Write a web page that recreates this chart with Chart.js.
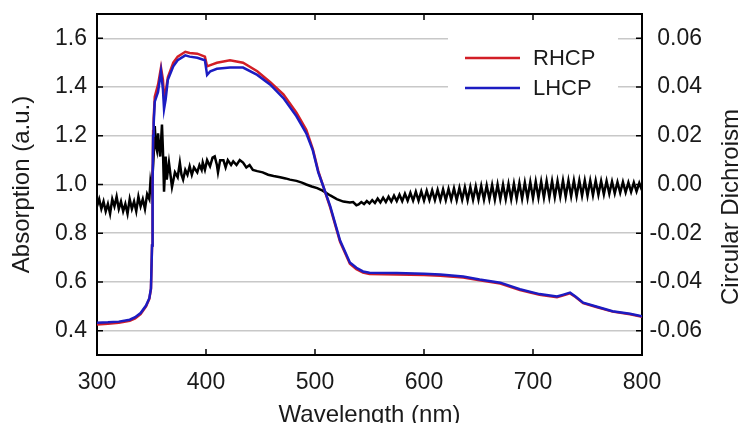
<!DOCTYPE html>
<html lang="en">
<head>
    <meta charset="UTF-8">
    <title>Absorption / Circular Dichroism</title>
    <script src="https://cdn.jsdelivr.net/npm/chart.js"></script>
    <style>
        body {
            margin: 0;
            background: #fff;
        }
        .chart-container {
            width: 745px;
            height: 423px;
            position: relative;
        }
    </style>
</head>
<body>
    <div class="chart-container">
        <canvas id="cdChart"></canvas>
    </div>

    <script>
        // wavelengths (nm) for the two absorption curves
        const absWl = [300, 310, 320, 330, 335, 340, 345, 348, 349.5, 350.5, 351, 351.5, 352, 353, 356, 358.7, 360.5, 361.5, 363, 365,
            370, 374, 381, 385, 392, 399, 401, 404, 410, 422, 434, 447, 459, 471, 483, 492, 498, 503, 507, 514,
            523, 532, 538, 544, 550, 575, 600, 615, 636, 651, 670, 688, 706, 722, 728, 734, 739, 746, 758, 773, 789, 800];
        const rhcp = [0.425, 0.428, 0.432, 0.44, 0.45, 0.468, 0.50, 0.53, 0.57, 0.75, 1.0, 1.22, 1.27, 1.36, 1.41, 1.48, 1.43, 1.36, 1.38, 1.44,
            1.50, 1.525, 1.545, 1.54, 1.537, 1.525, 1.485, 1.49, 1.50, 1.51, 1.50, 1.465, 1.42, 1.37, 1.295, 1.225, 1.145, 1.055, 1.0, 0.905,
            0.765, 0.675, 0.652, 0.638, 0.633, 0.631, 0.628, 0.625, 0.618, 0.607, 0.593, 0.567, 0.547, 0.537, 0.545, 0.553, 0.538, 0.513, 0.497, 0.478, 0.467, 0.457];
        const lhcp = [0.432, 0.434, 0.437, 0.445, 0.455, 0.472, 0.503, 0.533, 0.573, 0.75, 1.0, 1.2, 1.25, 1.34, 1.38, 1.465, 1.39, 1.31, 1.35, 1.43,
            1.485, 1.51, 1.53, 1.525, 1.52, 1.51, 1.45, 1.465, 1.475, 1.48, 1.48, 1.45, 1.41, 1.355, 1.28, 1.21, 1.14, 1.05, 1.0, 0.91,
            0.77, 0.68, 0.658, 0.643, 0.638, 0.637, 0.634, 0.630, 0.622, 0.610, 0.597, 0.570, 0.550, 0.540, 0.548, 0.556, 0.540, 0.515, 0.499, 0.480, 0.469, 0.459];

        // circular dichroism (right axis)
        const cdWl = [300, 302, 304, 306, 308, 310, 312, 314, 316, 318, 320, 322, 324, 326, 328, 330, 332, 334, 336, 338,
            340, 342, 344, 346, 348, 349, 350, 351, 352, 353, 354, 355, 356, 357, 358, 359.6, 360.5, 361.5, 363, 364,
            366, 368.8, 371.5, 374, 376, 377.5, 379, 381, 383, 385, 387, 389, 392, 394, 396, 397, 399, 401, 403.7, 406,
            408, 410, 411, 413, 416, 418, 420, 423, 425, 428, 431, 434, 437, 440, 443, 447, 452, 457, 462, 468,
            473, 477, 483, 488, 492, 497, 502, 507, 514, 520, 526, 532, 535, 538,
            540, 542.5, 545, 547.5, 550, 552.5, 555, 557.5, 560, 562.5, 565, 567.5, 570, 572.5, 575, 577.5, 580, 582.5, 585, 587.5,
            590, 592.5, 595, 597.5, 600, 602.5, 605, 607.5, 610, 612.5, 615, 617.5, 620, 622.5, 625, 627.5, 630, 632.5, 635, 637.5,
            640, 642.5, 645, 647.5, 650, 652.5, 655, 657.5, 660, 662.5, 665, 667.5, 670, 672.5, 675, 677.5, 680, 682.5, 685, 687.5,
            690, 692.5, 695, 697.5, 700, 702.5, 705, 707.5, 710, 712.5, 715, 717.5, 720, 722.5, 725, 727.5, 730, 732.5, 735, 737.5,
            740, 742.5, 745, 747.5, 750, 752.5, 755, 757.5, 760, 762.5, 765, 767.5, 770, 772.5, 775, 777.5, 780, 782.5, 785, 787.5,
            790, 792.5, 795, 797.5, 800];
        const cdVal = [-0.009, -0.006, -0.010, -0.007, -0.011, -0.008, -0.012, -0.006, -0.009, -0.005, -0.010, -0.007, -0.011, -0.008, -0.012, -0.006, -0.010, -0.007, -0.011, -0.005,
            -0.009, -0.006, -0.010, -0.004, -0.006, 0.001, -0.002, 0.004, 0.012, 0.024, 0.016, 0.014, 0.021, 0.015, 0.0115, 0.0246, 0.014, -0.003, 0.0115, 0.002,
            0.009, -0.001, 0.005, 0.003, 0.009, 0.004, 0.002, 0.006, 0.004, 0.0075, 0.004, 0.007, 0.005, 0.008, 0.006, 0.009, 0.006, 0.010, 0.0075, 0.011,
            0.0115, 0.008, 0.005, 0.010, 0.010, 0.007, 0.010, 0.008, 0.0095, 0.008, 0.010, 0.009, 0.007, 0.008, 0.006, 0.0055, 0.005, 0.004, 0.0035, 0.003,
            0.0025, 0.002, 0.0015, 0.0008, 0.0, -0.0008, -0.0015, -0.0025, -0.0045, -0.006, -0.007, -0.0074, -0.0072, -0.0085,
            -0.0082, -0.0072, -0.0080, -0.0068, -0.0078, -0.0064, -0.0076, -0.0058, -0.0074, -0.0054, -0.0072, -0.0050, -0.0070, -0.0046, -0.0068, -0.0042, -0.0068, -0.0038, -0.0066, -0.0034,
            -0.0066, -0.0030, -0.0066, -0.0028, -0.0066, -0.0026, -0.0064, -0.0024, -0.0064, -0.0022, -0.0064, -0.0020, -0.0064, -0.0018, -0.0062, -0.0016, -0.0064, -0.0014, -0.0062, -0.0012,
            -0.0064, -0.0010, -0.0062, -0.0008, -0.0062, -0.0006, -0.0062, -0.0004, -0.0060, -0.0002, -0.0062, 0.0000, -0.0060, 0.0000, -0.0060, 0.0002, -0.0060, 0.0004, -0.0058, 0.0006,
            -0.0058, 0.0008, -0.0056, 0.0010, -0.0056, 0.0012, -0.0054, 0.0012, -0.0054, 0.0014, -0.0052, 0.0014, -0.0052, 0.0014, -0.0050, 0.0016, -0.0050, 0.0016, -0.0048, 0.0016,
            -0.0048, 0.0016, -0.0046, 0.0016, -0.0046, 0.0016, -0.0044, 0.0016, -0.0042, 0.0014, -0.0040, 0.0014, -0.0038, 0.0012, -0.0036, 0.0010, -0.0034, 0.0010, -0.0032, 0.0008,
            -0.0030, 0.0008, -0.0028, 0.0006, -0.0024];

        const xTicks = [300, 400, 500, 600, 700, 800];
        const leftTicks = [0.4, 0.6, 0.8, 1.0, 1.2, 1.4, 1.6];
        const rightTicks = [-0.06, -0.04, -0.02, 0.00, 0.02, 0.04, 0.06];
        const rightTitle = 'Circular Dichroism';

        const FONT = 'Arial, "Liberation Sans", sans-serif';

        function pts(xs, ys) {
            return xs.map((x, i) => ({ x: x, y: ys[i] }));
        }

        // short tick marks pointing into the plot, on all four sides
        const innerTicks = {
            id: 'innerTicks',
            afterDraw(chart) {
                const { ctx, chartArea: a, scales } = chart;
                const len = 6;
                ctx.save();
                ctx.strokeStyle = '#000';
                ctx.lineWidth = 1.5;
                ctx.beginPath();
                xTicks.forEach(v => {
                    const px = scales.x.getPixelForValue(v);
                    ctx.moveTo(px, a.bottom); ctx.lineTo(px, a.bottom - len);
                    ctx.moveTo(px, a.top); ctx.lineTo(px, a.top + len);
                });
                leftTicks.forEach(v => {
                    const py = scales.y.getPixelForValue(v);
                    ctx.moveTo(a.left, py); ctx.lineTo(a.left + len, py);
                });
                rightTicks.forEach(v => {
                    const py = scales.y2.getPixelForValue(v);
                    ctx.moveTo(a.right, py); ctx.lineTo(a.right - len, py);
                });
                ctx.stroke();

                // right axis title reads bottom to top, like the left one
                ctx.font = '24px ' + FONT;
                ctx.fillStyle = '#1a1a1a';
                ctx.textAlign = 'center';
                ctx.textBaseline = 'middle';
                ctx.translate(731, 207);
                ctx.rotate(-Math.PI / 2);
                ctx.fillText(rightTitle, 0, 0);
                ctx.restore();
            }
        };

        // legend box inside the plot (white box hides the grid behind it)
        const boxLegend = {
            id: 'boxLegend',
            beforeDatasetsDraw(chart) {
                const ctx = chart.ctx;
                ctx.save();
                ctx.fillStyle = '#fff';
                ctx.fillRect(448, 28, 170, 72);
                ctx.restore();
            },
            afterDraw(chart) {
                const ctx = chart.ctx;
                const items = chart.data.datasets.filter(d => d.inLegend);
                ctx.save();
                ctx.font = '22px ' + FONT;
                ctx.textBaseline = 'middle';
                ctx.fillStyle = '#1a1a1a';
                items.forEach((d, i) => {
                    const y = 58 + i * 30;
                    ctx.strokeStyle = d.borderColor;
                    ctx.lineWidth = 2.5;
                    ctx.beginPath();
                    ctx.moveTo(465, y); ctx.lineTo(520, y);
                    ctx.stroke();
                    ctx.fillText(d.label, 533, y + 1);
                });
                ctx.restore();
            }
        };

        const noPad = s => { s.paddingTop = 0; s.paddingBottom = 0; };

        const ctx = document.getElementById('cdChart').getContext('2d');
        new Chart(ctx, {
            type: 'line',
            data: {
                datasets: [
                    {
                        label: 'CD',
                        data: pts(cdWl, cdVal),
                        yAxisID: 'y2',
                        borderColor: '#000',
                        borderWidth: 2.5,
                        order: 3
                    },
                    {
                        label: 'RHCP',
                        inLegend: true,
                        data: pts(absWl, rhcp),
                        yAxisID: 'y',
                        borderColor: '#d21e26',
                        borderWidth: 2.5,
                        order: 2
                    },
                    {
                        label: 'LHCP',
                        inLegend: true,
                        data: pts(absWl, lhcp),
                        yAxisID: 'y',
                        borderColor: '#1c1cc2',
                        borderWidth: 2.5,
                        order: 1
                    }
                ]
            },
            options: {
                responsive: true,
                maintainAspectRatio: false,
                animation: false,
                layout: { padding: { top: 0, right: 43, bottom: 0, left: 0 } },
                elements: { point: { radius: 0 }, line: { tension: 0 } },
                plugins: { legend: { display: false }, tooltip: { enabled: false } },
                scales: {
                    x: {
                        type: 'linear',
                        position: 'bottom',
                        min: 300,
                        max: 800,
                        afterBuildTicks: s => { s.ticks = xTicks.map(v => ({ value: v })); },
                        afterFit: s => { s.height = 68; },
                        grid: { display: false, drawTicks: false },
                        border: { display: true, color: '#000', width: 2 },
                        ticks: { font: { family: FONT, size: 23 }, color: '#1a1a1a', padding: 14, maxRotation: 0 },
                        title: {
                            display: true,
                            text: 'Wavelength (nm)',
                            font: { family: FONT, size: 24 },
                            color: '#1a1a1a',
                            padding: { top: -7, bottom: -7 }
                        }
                    },
                    xTop: {
                        type: 'linear',
                        position: 'top',
                        min: 300,
                        max: 800,
                        afterFit: s => { s.height = 14; },
                        grid: { display: false, drawTicks: false },
                        border: { display: true, color: '#000', width: 2 },
                        ticks: { display: false }
                    },
                    y: {
                        type: 'linear',
                        position: 'left',
                        min: 0.3,
                        max: 1.7,
                        afterBuildTicks: s => { s.ticks = leftTicks.map(v => ({ value: v })); },
                        afterFit: s => { s.width = 97; noPad(s); },
                        grid: { color: '#c8c8c8', lineWidth: 1.5, drawTicks: false },
                        border: { display: true, color: '#000', width: 2 },
                        ticks: {
                            font: { family: FONT, size: 23 },
                            color: '#1a1a1a',
                            padding: 10,
                            callback: v => v.toFixed(1)
                        },
                        title: {
                            display: true,
                            text: 'Absorption (a.u.)',
                            font: { family: FONT, size: 24 },
                            color: '#1a1a1a',
                            padding: { top: 8, bottom: 8 }
                        }
                    },
                    y2: {
                        type: 'linear',
                        position: 'right',
                        min: -0.07,
                        max: 0.07,
                        afterBuildTicks: s => { s.ticks = rightTicks.map(v => ({ value: v })); },
                        afterFit: s => { s.width = 60; noPad(s); },
                        grid: { display: false, drawTicks: false },
                        border: { display: true, color: '#000', width: 2 },
                        ticks: {
                            font: { family: FONT, size: 23 },
                            color: '#1a1a1a',
                            crossAlign: 'far',
                            callback: v => v.toFixed(2)
                        }
                    }
                }
            },
            plugins: [innerTicks, boxLegend]
        });
    </script>
</body>
</html>
